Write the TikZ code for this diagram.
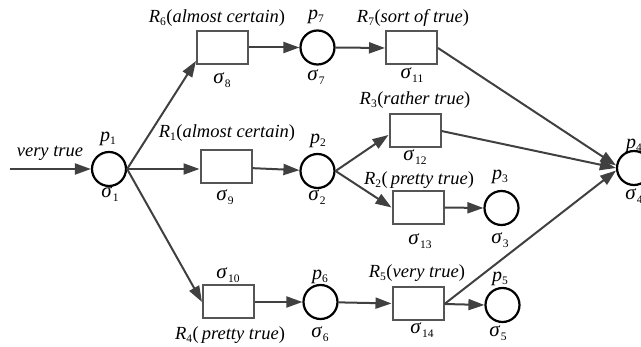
\documentclass[tikz,border=0pt]{standalone}
\usepackage{fontspec}
\setmainfont{Liberation Serif}
\usetikzlibrary{arrows.meta}
\definecolor{arrcol}{HTML}{404040}
\definecolor{boxcol}{HTML}{555555}
\newcommand\subx[1]{\raisebox{-0.4ex}{\fontsize{11.5}{11.5}\selectfont\upshape #1}}
\newcommand\pl[1]{{\fontsize{20}{20}\selectfont\textit{p}}\subx{#1}}
\newcommand\sg[1]{{\fontsize{21}{20}\selectfont\textit{σ}}\kern0.5pt\subx{#1}}
\newcommand\rl[2]{\textit{R}\subx{#1}\kern0.5pt(\textit{#2})}
\begin{document}
\begin{tikzpicture}[x=1pt,y=-1pt,
  every node/.style={font=\fontsize{18.5}{20}\selectfont},
  tbox/.style={draw=boxcol,line width=2pt,minimum width=51pt,minimum height=33pt,inner sep=0pt},
  place/.style={draw=black,circle,line width=2.2pt,minimum size=34pt,inner sep=0pt},
  txt/.style={inner sep=0pt},
  arr/.style={draw=arrcol,line width=2pt,-{Triangle[length=16pt,width=11pt]}}]
\useasboundingbox (0,0) rectangle (641,347);
% places
\node[place] (p1) at (109,169) {};
\node[place] (p7) at (317.5,47.5) {};
\node[place] (p2) at (317.5,171) {};
\node[place] (p3) at (501.5,208) {};
\node[place] (p4) at (634,168) {};
\node[place] (p6) at (320.5,302) {};
\node[place] (p5) at (502.5,305) {};
% transitions
\node[tbox] (s8) at (222.5,47.5) {};
\node[tbox] (s11) at (411.5,48) {};
\node[tbox] (s9) at (226,167) {};
\node[tbox] (s12) at (415,131) {};
\node[tbox] (s13) at (418,207.5) {};
\node[tbox] (s10) at (228.5,302) {};
\node[tbox] (s14) at (418,304) {};
% labels
\node[txt] (lvt) at (50,153) {\textit{very true}};
\node[txt] (lp1) at (108,139) {\pl{1}};
\node[txt] (ls1) at (110,194) {\sg{1}};
\node[txt] (lr6) at (217,18) {\rl{6}{almost certain}};
\node[txt] (ls8) at (222,80) {\sg{8}};
\node[txt] (lp7) at (316,17) {\pl{7}};
\node[txt] (ls7) at (316,77) {\sg{7}};
\node[txt] (lr7) at (413,18) {\rl{7}{sort of true}};
\node[txt] (ls11) at (412,75) {\sg{11}};
\node[txt] (lr1) at (227,133) {\rl{1}{almost certain}};
\node[txt] (ls9) at (225,197) {\sg{9}};
\node[txt] (lp2) at (318,141) {\pl{2}};
\node[txt] (ls2) at (317,197) {\sg{2}};
\node[txt] (lr3) at (415,100) {\rl{3}{rather true}};
\node[txt] (ls12) at (415,157) {\sg{12}};
\node[txt] (lr2) at (419,180) {\textit{R}\subx{2}\kern0.5pt(\,\textit{pretty true})};
\node[txt] (ls13) at (420,241) {\sg{13}};
\node[txt] (lp3) at (500,177) {\pl{3}};
\node[txt] (ls3) at (500,240) {\sg{3}};
\node[txt] (lp4) at (634,146) {\pl{4}};
\node[txt] (ls4) at (634,196) {\sg{4}};
\node[txt] (ls10) at (228,275) {\sg{10}};
\node[txt] (lr4) at (230,335) {\textit{R}\subx{4}\kern0.5pt(\,\textit{pretty true})};
\node[txt] (lp6) at (320,277) {\pl{6}};
\node[txt] (ls6) at (320,334) {\sg{6}};
\node[txt] (lr5) at (417,273) {\rl{5}{very true}};
\node[txt] (ls14) at (422,330) {\sg{14}};
\node[txt] (lp5) at (500,279) {\pl{5}};
\node[txt] (ls5) at (498,333) {\sg{5}};
% connectors
\coordinate (in) at (10,169);
\draw[arr] (in) -- (p1.west);
\draw[arr] (p1.east) -- ([yshift=4pt]s8.south west);
\draw[arr] (p1.east) -- (p1.east -| s9.west);
\draw[arr] (p1.east) -- (s10.west);
\draw[arr] (s8.east) -- (p7.west);
\draw[arr] (p7.east) -- (s11.west);
\draw[arr] (s9) -- (p2);
\draw[arr] (p2.east) -- ([yshift=-4pt]s12.west);
\draw[arr] (p2.east) -- (s13.west);
\draw[arr] (s13.east) -- (p3.west);
\draw[arr] (s10.east) -- (p6.west);
\draw[arr] (p6) -- (s14);
\draw[arr] (s14.east) -- (p5.west);
\draw[arr] (s11.east) -- (p4.172);
\draw[arr] (s12.east) -- (p4.west);
\draw[arr] (s14.east) -- (p4.188);
\end{tikzpicture}
\end{document}
